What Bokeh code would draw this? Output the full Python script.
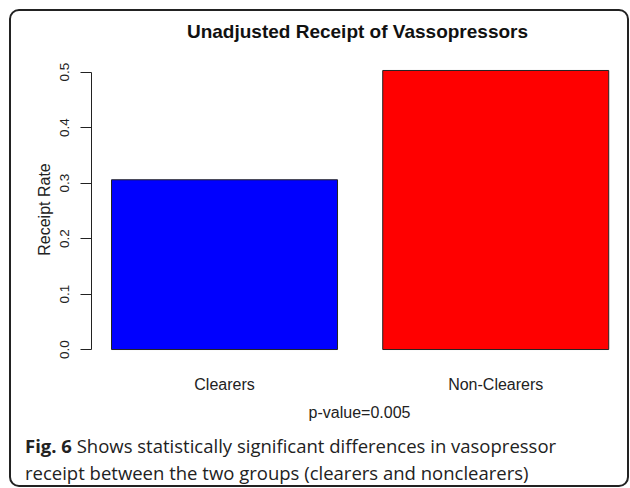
from bokeh.plotting import figure
from bokeh.layouts import column
from bokeh.models import (Range1d, LinearAxis, FixedTicker, ColumnDataSource,
                          PrintfTickFormatter, Div)
from bokeh.embed import file_html
from bokeh.resources import INLINE

categories = ["Clearers", "Non-Clearers"]
rates = [0.306, 0.503]
y_ticks = [0.0, 0.1, 0.2, 0.3, 0.4, 0.5]
title_text = "Unadjusted Receipt of Vassopressors"
y_label = "Receipt Rate"
x_label = "p-value=0.005"
caption_bold = "Fig. 6"
caption_line1 = "Shows statistically significant differences in vasopressor"
caption_line2 = "receipt between the two groups (clearers and nonclearers)"

# R barplot positions: width 1, space 0.2
centers = [0.7 + 1.2 * i for i in range(len(categories))]
src = ColumnDataSource(dict(x=centers, top=rates, cat=categories,
                            color=["#0000FF", "#FF0000"]))

RF = "Liberation Sans"
INK = "#222222"

title_html = (
    '<div style="box-sizing:border-box; padding-left:77px; width:616px; '
    'padding-top:11px; text-align:center; '
    'font-family:\'Liberation Sans\', Arial, sans-serif; '
    'font-size:19px; font-weight:bold; line-height:20px; color:#111111; '
    f'white-space:nowrap;">{title_text}</div>'
)
ttl = Div(text=title_html, width=616, height=47, margin=(0, 0, 0, 0))

p = figure(width=616, height=367, output_backend="svg", toolbar_location=None,
           title=None,
           x_range=Range1d(0.1115, 2.483), y_range=Range1d(-0.0198, 0.5246),
           x_axis_location=None, y_axis_location=None,
           min_border_left=80, min_border_right=0, min_border_top=0,
           min_border_bottom=65)
p.grid.visible = False
p.outline_line_color = None

p.vbar(x="x", top="top", bottom=0, width=1.0, source=src, fill_color="color",
       line_color=INK, line_width=1)

yax = LinearAxis(ticker=FixedTicker(ticks=y_ticks), bounds=(0, 0.5),
                 axis_label=y_label, formatter=PrintfTickFormatter(format="%.1f"))
yax.major_label_orientation = "vertical"
yax.major_tick_out = 11
yax.major_tick_in = 0
yax.minor_tick_line_color = None
yax.axis_line_color = INK
yax.major_tick_line_color = INK
yax.major_label_text_font = RF
yax.major_label_text_font_size = "13.5px"
yax.major_label_text_color = INK
yax.major_label_standoff = 11
yax.axis_label_text_font = RF
yax.axis_label_text_font_size = "16px"
yax.axis_label_text_font_style = "normal"
yax.axis_label_text_color = INK
yax.axis_label_standoff = 5
p.add_layout(yax, "left")

xax = LinearAxis(ticker=FixedTicker(ticks=centers), axis_label=x_label)
xax.major_label_overrides = {c: n for c, n in zip(centers, categories)}
xax.axis_line_color = None
xax.major_tick_line_color = None
xax.minor_tick_line_color = None
xax.major_label_text_font = RF
xax.major_label_text_font_size = "16px"
xax.major_label_text_color = INK
xax.major_label_standoff = 9
xax.axis_label_text_font = RF
xax.axis_label_text_font_size = "16px"
xax.axis_label_text_font_style = "normal"
xax.axis_label_text_color = INK
xax.axis_label_standoff = 8
p.add_layout(xax, "below")

# caption
caption_html = (
    '<div style="padding-left:14px; padding-top:7px; '
    'font-family:\'Open Sans\', sans-serif; '
    'font-size:18.5px; line-height:27px; color:#222222; white-space:nowrap;">'
    f'<b>{caption_bold}</b> {caption_line1}<br>{caption_line2}</div>'
)
cap = Div(text=caption_html, width=616, height=60, margin=(0, 0, 0, 0))

layout = column(ttl, p, cap, spacing=0,
                styles={"margin-left": "9px", "margin-top": "9px",
                        "border": "2px solid #222222", "border-radius": "10px",
                        "background-color": "white"})

open("out.html", "w").write(file_html(layout, INLINE))
